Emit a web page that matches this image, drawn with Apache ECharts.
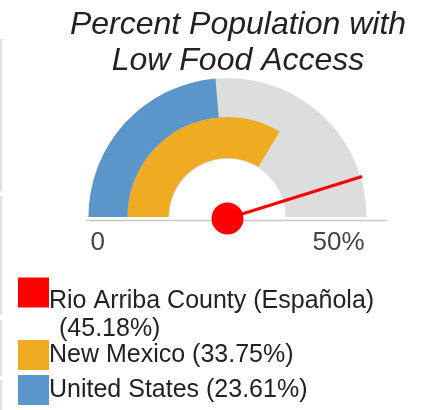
<!DOCTYPE html>
<html>
<head>
<meta charset="utf-8">
<script src="https://cdn.jsdelivr.net/npm/echarts@6/dist/echarts.min.js"></script>
<style>
html,body{margin:0;padding:0;background:#fff;}
#crq_1{width:424px;height:410px;}
</style>
</head>
<body>
<div id="crq_1"></div>
<script>
var names=['Rio Arriba County (Española)','New Mexico','United States'];
var values=[45.18,33.75,23.61];
var colors=['#ff0000','#efab22','#5a96c9'];
var axisMin=0;
var axisMax=50;
var tickLabels=['0','50%'];

var font='Liberation Sans, Arial, sans-serif';
var cx=227.5, cy=217;

function legendLabel(i){
    return names[i]+' ('+values[i]+'%)'
}

var hidden={show:false};

var myChart=echarts.init(document.getElementById('crq_1'))
myChart.setOption({
    backgroundColor:'#fff',
    title:{
        text:'Percent Population with\nLow Food Access',
        left:238,
        top:7,
        padding:0,
        textAlign:'center',
        textStyle:{
            fontFamily:font,
            fontStyle:'italic',
            fontWeight:'normal',
            fontSize:32,
            lineHeight:36,
            color:'#222'
        }
    },
    legend:[
        {
            left:18,top:242,padding:0,
            icon:'rect',itemWidth:31,itemHeight:30,
            selectedMode:false,
            data:[{name:names[0],itemStyle:{color:colors[0]}}],
            formatter:function(){
                return '{a|'+names[0]+'}\n{b|('+values[0]+'%)}'
            },
            textStyle:{
                fontFamily:font,fontSize:25,lineHeight:28,color:'#222',
                padding:[45,0,0,-5],
                rich:{
                    a:{fontFamily:font,fontSize:25,lineHeight:28,color:'#222'},
                    b:{fontFamily:font,fontSize:25,lineHeight:28,color:'#222',padding:[0,0,0,10]}
                }
            }
        },
        {
            left:18,top:332,padding:0,
            icon:'rect',itemWidth:31,itemHeight:30,
            selectedMode:false,
            data:[{name:names[1],itemStyle:{color:colors[1]}}],
            formatter:function(){return legendLabel(1)},
            textStyle:{fontFamily:font,fontSize:25,lineHeight:28,color:'#222',padding:[18,0,0,-5]}
        },
        {
            left:18,top:367,padding:0,
            icon:'rect',itemWidth:31,itemHeight:30,
            selectedMode:false,
            data:[{name:names[2],itemStyle:{color:colors[2]}}],
            formatter:function(){return legendLabel(2)},
            textStyle:{fontFamily:font,fontSize:25,lineHeight:28,color:'#222',padding:[18,0,0,-5]}
        }
    ],
    graphic:[
        {type:'line',shape:{x1:86,y1:220.5,x2:387,y2:220.5},style:{stroke:'#c8c8c8',lineWidth:1.5},z:0},
        {type:'rect',shape:{x:0,y:39,width:2,height:152},style:{fill:'#e0e0e0'}},
        {type:'rect',shape:{x:0,y:196,width:2,height:119},style:{fill:'#e0e0e0'}},
        {type:'rect',shape:{x:0,y:320,width:2,height:56},style:{fill:'#e0e0e0'}},
        {type:'rect',shape:{x:0,y:380,width:2,height:30},style:{fill:'#e0e0e0'}}
    ],
    series:[
        {
            name:names[2],
            type:'gauge',
            center:[cx,cy],
            radius:139,
            startAngle:180,endAngle:0,
            min:axisMin,max:axisMax,
            splitNumber:1,
            itemStyle:{color:colors[2]},
            axisLine:{show:true,lineStyle:{width:81,color:[[1,'#dddddd']]}},
            progress:{show:true,width:39,roundCap:false,itemStyle:{color:colors[2]}},
            pointer:hidden,anchor:hidden,
            axisTick:hidden,
            splitLine:{show:false,length:0,distance:0},
            axisLabel:{
                show:true,distance:2,
                fontFamily:font,fontSize:26,lineHeight:51,color:'#444',
                formatter:function(v){return '\n'+(v===axisMin?tickLabels[0]:tickLabels[1])}
            },
            title:hidden,detail:hidden,
            data:[{value:values[2],name:names[2]}]
        },
        {
            name:names[1],
            type:'gauge',
            center:[cx,cy],
            radius:100,
            startAngle:180,endAngle:0,
            min:axisMin,max:axisMax,
            itemStyle:{color:colors[1]},
            axisLine:hidden,
            progress:{show:true,width:41,roundCap:false,itemStyle:{color:colors[1]}},
            pointer:hidden,anchor:hidden,
            axisTick:hidden,splitLine:hidden,axisLabel:hidden,
            title:hidden,detail:hidden,
            data:[{value:values[1],name:names[1]}]
        },
        {
            name:names[0],
            type:'gauge',
            center:[cx,cy+1.5],
            radius:139,
            startAngle:180,endAngle:0,
            min:axisMin,max:axisMax,
            z:5,
            itemStyle:{color:colors[0]},
            axisLine:hidden,
            progress:hidden,
            pointer:{show:true,icon:'rect',length:141,width:3,itemStyle:{color:colors[0]}},
            anchor:{show:true,showAbove:true,icon:'circle',size:32,itemStyle:{color:colors[0]}},
            axisTick:hidden,splitLine:hidden,axisLabel:hidden,
            title:hidden,detail:hidden,
            data:[{value:values[0],name:names[0]}]
        }
    ]
})
</script>
</body>
</html>
